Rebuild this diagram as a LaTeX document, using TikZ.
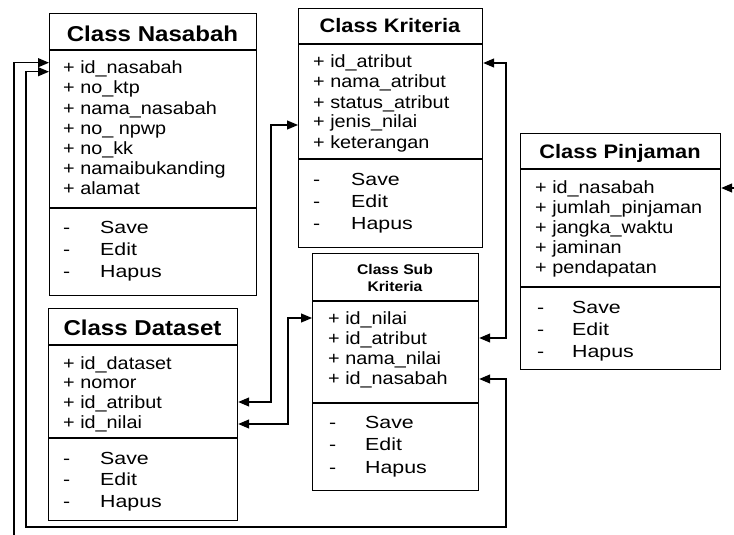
\documentclass[tikz,border=0pt]{standalone}
\usepackage{fontspec}
\setmainfont{Liberation Sans}[FakeStretch=1.12]
\newfontfamily\opsfont{Liberation Sans}[FakeStretch=1.22]
\usetikzlibrary{arrows.meta}
\begin{document}
\begin{tikzpicture}[x=1pt,y=-1pt,
  umlbox/.style={draw, line width=1.2pt, inner sep=0, anchor=north west},
  sepline/.style={line width=1.2pt},
  attr/.style={anchor=base west, inner sep=0, font=\fontsize{17.7}{20}\selectfont},
  opitem/.style={anchor=base west, inner sep=0, font=\opsfont\fontsize{17.5}{20}\selectfont},
  titleL/.style={anchor=base, inner sep=0, font=\bfseries\fontsize{21.5}{24}\selectfont},
  titleM/.style={anchor=base, inner sep=0, font=\bfseries\fontsize{19.5}{22}\selectfont},
  titleS/.style={anchor=base, inner sep=0, font=\bfseries\fontsize{14}{16}\selectfont},
  conn/.style={line width=1.2pt},
  >={Triangle[length=11pt,width=9pt]}
]
\useasboundingbox (0,0) rectangle (734,535);

% ---------- Class Nasabah ----------
\node[umlbox, minimum width=207pt, minimum height=282pt] (nas) at (49,13) {};
\draw[sepline] (nas.west |- 0,50) -- (nas.east |- 0,50);
\draw[sepline] (nas.west |- 0,208) -- (nas.east |- 0,208);
\node[titleL] (nasT) at (152.5,42) {Class Nasabah};
\foreach \t [count=\i] in {+ id\_nasabah, + no\_ktp, + nama\_nasabah, + no\_ npwp, + no\_kk, + namaibukanding, + alamat}
  \node[attr] (nasA\i) at (63,{74+20*(\i-1)}) {\t};
\foreach \t [count=\i] in {Save, Edit, Hapus} {
  \node[opitem] (nasD\i) at (63,{233+22*(\i-1)}) {-};
  \node[opitem] (nasO\i) at (100,{233+22*(\i-1)}) {\t};
}

% ---------- Class Kriteria ----------
\node[umlbox, minimum width=184pt, minimum height=239pt] (kri) at (298,8) {};
\draw[sepline] (kri.west |- 0,44) -- (kri.east |- 0,44);
\draw[sepline] (kri.west |- 0,159) -- (kri.east |- 0,159);
\node[titleM] (kriT) at (390,33) {Class Kriteria};
\foreach \t [count=\i] in {+ id\_atribut, + nama\_atribut, + status\_atribut, + jenis\_nilai, + keterangan}
  \node[attr] (kriA\i) at (313,{68+20*(\i-1)}) {\t};
\foreach \t [count=\i] in {Save, Edit, Hapus} {
  \node[opitem] (kriD\i) at (313,{185+22*(\i-1)}) {-};
  \node[opitem] (kriO\i) at (351,{185+22*(\i-1)}) {\t};
}

% ---------- Class Pinjaman ----------
\node[umlbox, minimum width=200pt, minimum height=236pt] (pin) at (520,133) {};
\draw[sepline] (pin.west |- 0,169) -- (pin.east |- 0,169);
\draw[sepline] (pin.west |- 0,287) -- (pin.east |- 0,287);
\node[titleM] (pinT) at (620,158) {Class Pinjaman};
\foreach \t [count=\i] in {+ id\_nasabah, + jumlah\_pinjaman, + jangka\_waktu, + jaminan, + pendapatan}
  \node[attr] (pinA\i) at (535,{193+20*(\i-1)}) {\t};
\foreach \t [count=\i] in {Save, Edit, Hapus} {
  \node[opitem] (pinD\i) at (537,{313+22*(\i-1)}) {-};
  \node[opitem] (pinO\i) at (572,{313+22*(\i-1)}) {\t};
}

% ---------- Class Dataset ----------
\node[umlbox, minimum width=189pt, minimum height=212pt] (dat) at (48,308) {};
\draw[sepline] (dat.west |- 0,345) -- (dat.east |- 0,345);
\draw[sepline] (dat.west |- 0,438) -- (dat.east |- 0,438);
\node[titleL] (datT) at (142.5,335) {Class Dataset};
\foreach \t [count=\i] in {+ id\_dataset, + nomor, + id\_atribut, + id\_nilai}
  \node[attr] (datA\i) at (63,{369+19.7*(\i-1)}) {\t};
\foreach \t [count=\i] in {Save, Edit, Hapus} {
  \node[opitem] (datD\i) at (63,{464+21.5*(\i-1)}) {-};
  \node[opitem] (datO\i) at (100,{464+21.5*(\i-1)}) {\t};
}

% ---------- Class Sub Kriteria ----------
\node[umlbox, minimum width=166pt, minimum height=237pt] (sub) at (312,253) {};
\draw[sepline] (sub.west |- 0,301) -- (sub.east |- 0,301);
\draw[sepline] (sub.west |- 0,403) -- (sub.east |- 0,403);
\node[titleS] (subT1) at (395,274) {Class Sub};
\node[titleS] (subT2) at (395,291) {Kriteria};
\foreach \t [count=\i] in {+ id\_nilai, + id\_atribut, + nama\_nilai, + id\_nasabah}
  \node[attr] (subA\i) at (328,{324+20*(\i-1)}) {\t};
\foreach \t [count=\i] in {Save, Edit, Hapus} {
  \node[opitem] (subD\i) at (329,{428+22.5*(\i-1)}) {-};
  \node[opitem] (subO\i) at (365,{428+22.5*(\i-1)}) {\t};
}

% ---------- Connectors ----------
\coordinate (endA) at (14,535);
\coordinate (endB) at (734,188);
\draw[conn,<-] (nas.west |- 0,62.7) -- (14,62.7) -- (endA);
\draw[conn,<->] (nas.west |- 0,71.7) -- (26,71.7) -- (26,527) -- (506,527) -- (506,379) -- (sub.east |- 0,379);
\draw[conn,<->] (kri.west |- 0,125) -- (271,125) -- (271,402) -- (dat.east |- 0,402);
\draw[conn,<->] (kri.east |- 0,63) -- (506,63) -- (506,338) -- (sub.east |- 0,338);
\draw[conn,<->] (sub.west |- 0,318) -- (288,318) -- (288,424) -- (dat.east |- 0,424);
\draw[conn,<-] (pin.east |- 0,188) -- (endB);
\end{tikzpicture}
\end{document}
